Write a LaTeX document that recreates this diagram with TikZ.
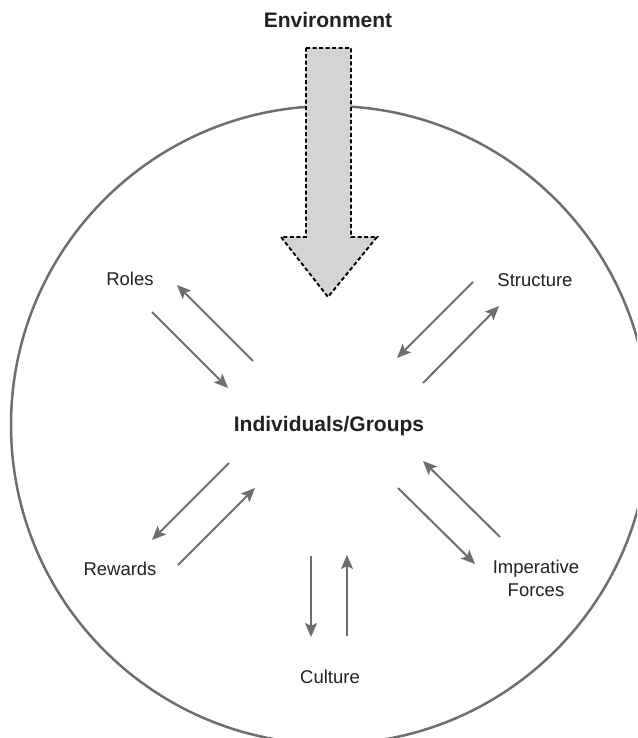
\documentclass[tikz,border=0pt]{standalone}
\usepackage{fontspec}
\setmainfont{Liberation Sans}
\usetikzlibrary{arrows.meta}
\definecolor{linegray}{HTML}{6E6E6E}
\definecolor{fillgray}{HTML}{D4D4D4}
\definecolor{textcol}{HTML}{222222}
\tikzset{
  lbl/.style={text=textcol, font=\fontsize{18.5}{23}\selectfont, align=center, inner sep=0pt},
  bold lbl/.style={text=textcol, font=\fontsize{21}{25}\selectfont\bfseries, inner sep=0pt},
  flow/.style={draw=linegray, line width=2pt, -{Stealth[length=14pt,width=12pt,inset=3pt]}},
  ring/.style={draw=linegray, line width=2.5pt},
  bigarrow/.style={draw=black, fill=fillgray, line width=1.9pt, dash pattern=on 4pt off 2.5pt}
}
\begin{document}
\begin{tikzpicture}[x=1pt,y=-1pt]
\useasboundingbox (0,0) rectangle (637,738);
\clip (0,0) rectangle (637,738);
\fill[white] (0,0) rectangle (637,738);
% outer circle
\node[ring, circle, minimum size=638pt, inner sep=0pt] (ring) at (330,425) {};
% environment arrow
\draw[bigarrow] (306,48) -- (351,48) -- (351,237) -- (377,237) -- (328,297) -- (281,237) -- (306,237) -- cycle;
% labels
\node[bold lbl] (env) at (328,20) {Environment};
\node[bold lbl] (ind) at (329,426) {Individuals/Groups};
\node[lbl] (roles) at (130,279) {Roles};
\node[lbl] (struct) at (535,280) {Structure};
\node[lbl] (rew) at (120,569) {Rewards};
\node[lbl] (cult) at (330,677) {Culture};
\node[lbl] (imp) at (536,578) {Imperative\\Forces};
% arrow end points
\coordinate (r1a) at (152,312); \coordinate (r1b) at (228,388);
\coordinate (r2a) at (253,361); \coordinate (r2b) at (177,285);
\coordinate (s1a) at (473,282); \coordinate (s1b) at (397,358);
\coordinate (s2a) at (423,383); \coordinate (s2b) at (499,306);
\coordinate (w1a) at (229,463); \coordinate (w1b) at (152,540);
\coordinate (w2a) at (178,565); \coordinate (w2b) at (255,488);
\coordinate (c1a) at (311,556); \coordinate (c1b) at (311,637);
\coordinate (c2a) at (347,636); \coordinate (c2b) at (347,555);
\coordinate (i1a) at (500,537); \coordinate (i1b) at (423,461);
\coordinate (i2a) at (398,488); \coordinate (i2b) at (475,564);
% arrows
\draw[flow] (r1a) -- (r1b);
\draw[flow] (r2a) -- (r2b);
\draw[flow] (s1a) -- (s1b);
\draw[flow] (s2a) -- (s2b);
\draw[flow] (w1a) -- (w1b);
\draw[flow] (w2a) -- (w2b);
\draw[flow] (c1a) -- (c1b);
\draw[flow] (c2a) -- (c2b);
\draw[flow] (i1a) -- (i1b);
\draw[flow] (i2a) -- (i2b);
\end{tikzpicture}
\end{document}
